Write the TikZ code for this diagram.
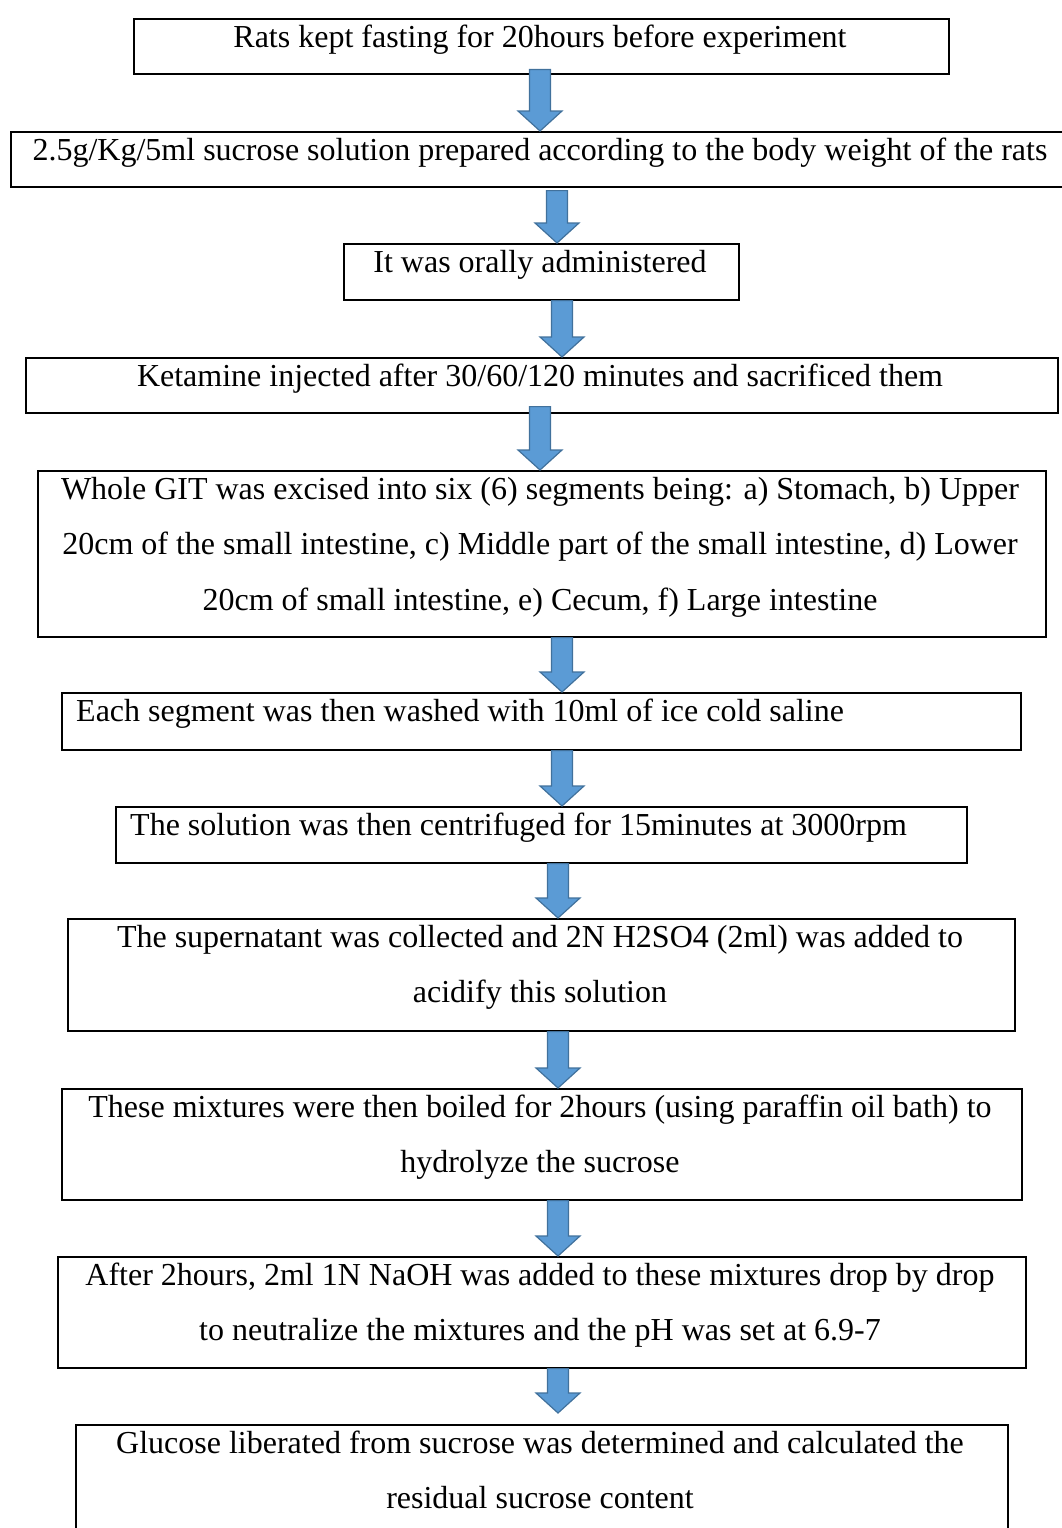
\documentclass[tikz,border=0pt]{standalone}
\usepackage{fontspec}
\setmainfont{Liberation Serif}
\usetikzlibrary{calc}

\definecolor{arrowfill}{HTML}{5B9BD5}
\definecolor{arrowline}{HTML}{41719C}

\tikzset{
  stepbox/.style={draw, line width=1.6pt, inner sep=0pt, anchor=north west},
  steptext/.style={anchor=north, inner sep=0pt, yshift=9.85pt, align=center,
    font=\fontsize{32}{55.5}\selectfont},
  blockarrow/.style={draw=arrowline, fill=arrowfill, line width=1.2pt,
    to path={let \p1=(\tikztostart), \p2=(\tikztotarget) in
      (\x1-10.5pt,\y1) -- (\x1+10.5pt,\y1) -- (\x1+10.5pt,\y2+20pt)
      -- (\x1+22pt,\y2+20pt) -- (\x1,\y2) -- (\x1-22pt,\y2+20pt)
      -- (\x1-10.5pt,\y2+20pt) -- cycle}}
}

\begin{document}
\begin{tikzpicture}[x=1pt, y=-1pt]
  \useasboundingbox (0,0) rectangle (1062,1528);

  % boxes
  \node[stepbox, minimum width=815pt,  minimum height=55pt]  (box1)  at (133,18)   {};
  \node[stepbox, minimum width=1053pt, minimum height=55pt]  (box2)  at (10,131)   {};
  \node[stepbox, minimum width=395pt,  minimum height=56pt]  (box3)  at (343,243)  {};
  \node[stepbox, minimum width=1032pt, minimum height=55pt]  (box4)  at (25,357)   {};
  \node[stepbox, minimum width=1008pt, minimum height=166pt] (box5)  at (37,470)   {};
  \node[stepbox, minimum width=959pt,  minimum height=57pt]  (box6)  at (61,692)   {};
  \node[stepbox, minimum width=851pt,  minimum height=56pt]  (box7)  at (115,806)  {};
  \node[stepbox, minimum width=947pt,  minimum height=112pt] (box8)  at (67,918)   {};
  \node[stepbox, minimum width=960pt,  minimum height=111pt] (box9)  at (61,1088)  {};
  \node[stepbox, minimum width=968pt,  minimum height=111pt] (box10) at (57,1256)  {};
  \node[stepbox, minimum width=932pt,  minimum height=120pt] (box11) at (75,1424)  {};

  % texts
  \node[steptext] (txt1) at (540,0 |- box1.north)
    {\strut Rats kept fasting for 20hours before experiment};
  \node[steptext] (txt2) at (540,0 |- box2.north)
    {\strut 2.5g/Kg/5ml sucrose solution prepared according to the body weight of the rats};
  \node[steptext] (txt3) at (540,0 |- box3.north)
    {\strut It was orally administered};
  \node[steptext] (txt4) at (540,0 |- box4.north)
    {\strut Ketamine injected after 30/60/120 minutes and sacrificed them};
  \node[steptext] (txt5) at (540,0 |- box5.north)
    {\strut Whole GIT was excised into six (6) segments being: a) Stomach, b) Upper\\
     20cm of the small intestine, c) Middle part of the small intestine, d) Lower\\
     20cm of small intestine, e) Cecum, f) Large intestine};
  \node[steptext, anchor=north west] (txt6) at ([xshift=15pt]box6.north west)
    {\strut Each segment was then washed with 10ml of ice cold saline};
  \node[steptext, anchor=north west] (txt7) at ([xshift=15pt]box7.north west)
    {\strut The solution was then centrifuged for 15minutes at 3000rpm};
  \node[steptext] (txt8) at (540,0 |- box8.north)
    {\strut The supernatant was collected and 2N H2SO4 (2ml) was added to\\
     acidify this solution};
  \node[steptext] (txt9) at (540,0 |- box9.north)
    {\strut These mixtures were then boiled for 2hours (using paraffin oil bath) to\\
     hydrolyze the sucrose};
  \node[steptext] (txt10) at (540,0 |- box10.north)
    {\strut After 2hours, 2ml 1N NaOH was added to these mixtures drop by drop\\
     to neutralize the mixtures and the pH was set at 6.9-7};
  \node[steptext] (txt11) at (540,0 |- box11.north)
    {\strut Glucose liberated from sucrose was determined and calculated the\\
     residual sucrose content};

  % arrows
  \foreach \ax/\a/\b/\da/\db in {540/1/2/-5/0, 557/2/3/3/0, 562/3/4/0/0,
      540/4/5/-7/0, 562/5/6/0/0, 562/6/7/0/0, 558/7/8/0/0, 558/8/9/0/0,
      558/9/10/0/0, 558/10/11/0/-11}
    \path[blockarrow] ($(\ax,0 |- box\a.south)+(0,\da)$) to ($(\ax,0 |- box\b.north)+(0,\db)$);
\end{tikzpicture}
\end{document}
